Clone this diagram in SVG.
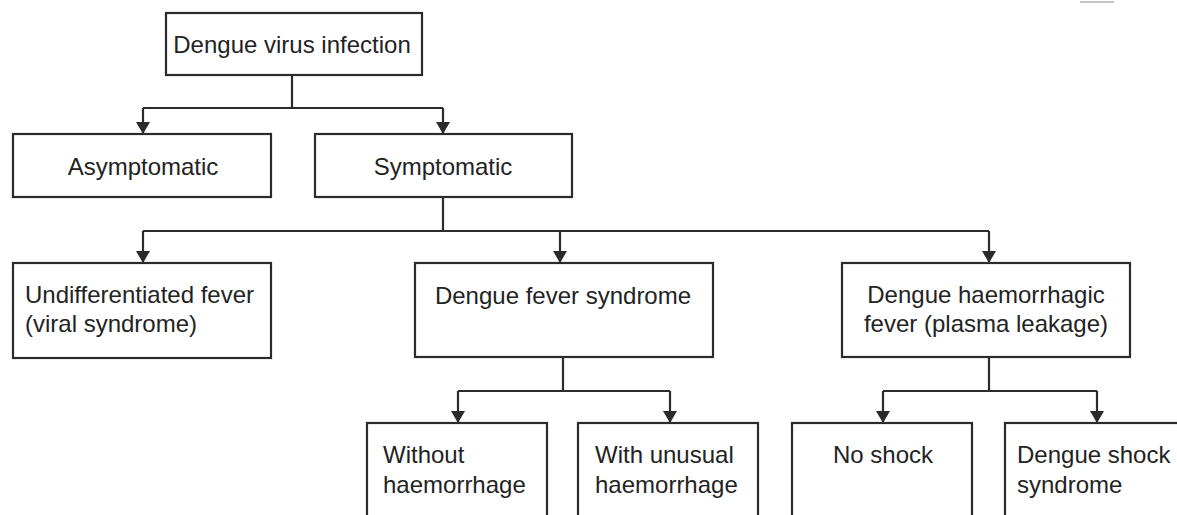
<svg xmlns="http://www.w3.org/2000/svg" width="1177" height="515" viewBox="0 0 1177 515">
<style>
  .box { fill: #ffffff; stroke: #2b2b2b; stroke-width: 2.2; }
  .lbl { font-family: "Liberation Sans", Arial, sans-serif; font-size: 24px; fill: #232323; }
  .mid { text-anchor: middle; }
  .conn { fill: none; stroke: #2b2b2b; stroke-width: 2.2; }
</style>
<defs>
  <marker id="arr" viewBox="0 0 10 10" refX="10" refY="5" markerWidth="12" markerHeight="14" markerUnits="userSpaceOnUse" orient="auto" preserveAspectRatio="none">
    <path d="M0,0 L10,5 L0,10 z" fill="#2b2b2b"/>
  </marker>
</defs>
<rect x="0" y="0" width="1177" height="515" fill="#ffffff"/>
<line x1="1080" y1="2" x2="1114" y2="2" stroke="#b0b0b0" stroke-width="1.5"/>

<g id="connectors">
  <path class="conn" d="M292 75 V108 M143 108 H443"/>
  <path class="conn" d="M143 108 V134" marker-end="url(#arr)"/>
  <path class="conn" d="M443 108 V134" marker-end="url(#arr)"/>
  <path class="conn" d="M443 197 V231 M143 231 H989"/>
  <path class="conn" d="M143 231 V263" marker-end="url(#arr)"/>
  <path class="conn" d="M560 231 V263" marker-end="url(#arr)"/>
  <path class="conn" d="M989 231 V263" marker-end="url(#arr)"/>
  <path class="conn" d="M563 357 V391 M458 391 H670"/>
  <path class="conn" d="M458 391 V423" marker-end="url(#arr)"/>
  <path class="conn" d="M670 391 V423" marker-end="url(#arr)"/>
  <path class="conn" d="M989 357 V391 M883 391 H1097"/>
  <path class="conn" d="M883 391 V423" marker-end="url(#arr)"/>
  <path class="conn" d="M1097 391 V423" marker-end="url(#arr)"/>
</g>

<g id="n-dengue">
  <rect class="box" x="166" y="13" width="256" height="62"/>
  <text class="lbl mid" x="292" y="53">Dengue virus infection</text>
</g>
<g id="n-asymptomatic">
  <rect class="box" x="13" y="134" width="258" height="63"/>
  <text class="lbl mid" x="143" y="175">Asymptomatic</text>
</g>
<g id="n-symptomatic">
  <rect class="box" x="315" y="134" width="257" height="63"/>
  <text class="lbl mid" x="443" y="175">Symptomatic</text>
</g>
<g id="n-undiff">
  <rect class="box" x="13" y="263" width="258" height="95"/>
  <text class="lbl" x="25" y="303">Undifferentiated fever</text>
  <text class="lbl" x="25" y="332">(viral syndrome)</text>
</g>
<g id="n-dfs">
  <rect class="box" x="415" y="263" width="298" height="94"/>
  <text class="lbl mid" x="563" y="304">Dengue fever syndrome</text>
</g>
<g id="n-dhf">
  <rect class="box" x="842" y="263" width="288" height="94"/>
  <text class="lbl mid" x="986" y="303">Dengue haemorrhagic</text>
  <text class="lbl mid" x="986" y="332">fever (plasma leakage)</text>
</g>
<g id="n-without">
  <rect class="box" x="367" y="423" width="180" height="110"/>
  <text class="lbl" x="383" y="463">Without</text>
  <text class="lbl" x="383" y="493">haemorrhage</text>
</g>
<g id="n-with">
  <rect class="box" x="578" y="423" width="180" height="110"/>
  <text class="lbl" x="595" y="463">With unusual</text>
  <text class="lbl" x="595" y="493">haemorrhage</text>
</g>
<g id="n-noshock">
  <rect class="box" x="792" y="423" width="180" height="110"/>
  <text class="lbl mid" x="883" y="463">No shock</text>
</g>
<g id="n-dss">
  <rect class="box" x="1005" y="423" width="190" height="110"/>
  <text class="lbl" x="1017" y="463">Dengue shock</text>
  <text class="lbl" x="1017" y="493">syndrome</text>
</g>
</svg>
